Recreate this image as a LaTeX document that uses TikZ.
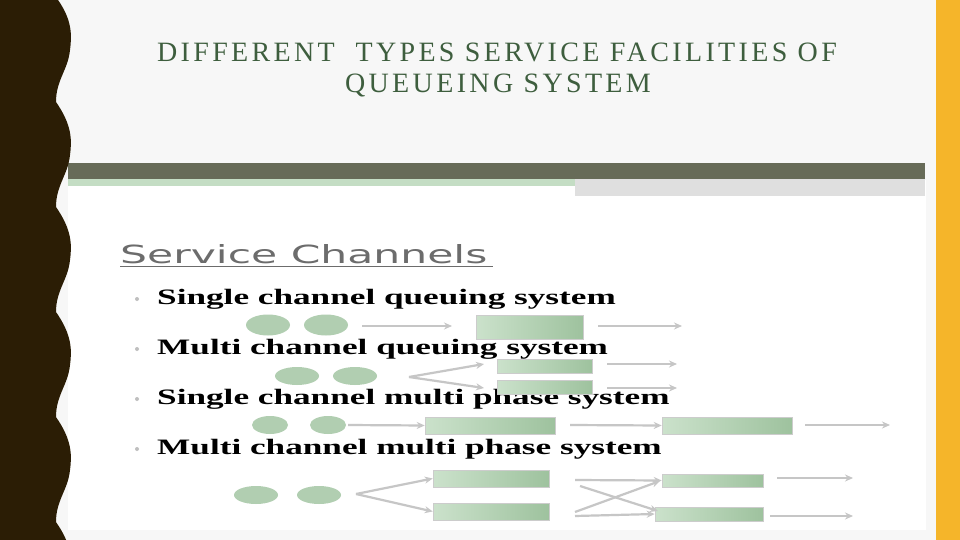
\documentclass[tikz,border=0pt]{standalone}
\usepackage{fontspec}
\setmainfont{Liberation Serif}
\newfontfamily\titlefont[LetterSpace=12]{Liberation Serif}
\newfontfamily\headfont{DejaVu Sans}
\usetikzlibrary{arrows.meta,shadings,shapes.geometric}
\definecolor{darkbrown}{HTML}{2B1D05}
\definecolor{orangebar}{HTML}{F5B52A}
\definecolor{titlegreen}{HTML}{3E5E3E}
\definecolor{boxgreen}{HTML}{B5D5B5}
\definecolor{boxgreenD}{HTML}{9EC29E}
\definecolor{headbar}{HTML}{676B58}
\tikzset{
  bx/.style={left color=boxgreen!70!white,right color=boxgreenD,draw=gray!40,line width=0.6pt},
  el/.style={ellipse,fill=boxgreenD!80!white,inner sep=0pt},
  ar/.style={draw=gray!45,line width=2.2pt,-{Stealth[length=8pt,width=7pt]}},
  btxt/.style={anchor=west,inner sep=0pt,font=\fontsize{22}{22}\selectfont\bfseries},
  bul/.style={circle,fill=gray!50,inner sep=0pt,minimum size=4pt}
}
\begin{document}
\begin{tikzpicture}[x=1pt,y=-1pt]
\useasboundingbox (0,0) rectangle (960,540);
\fill[white!94!gray] (0,0) rectangle (960,540);
\fill[orangebar] (936,0) rectangle (960,540);
\fill[white] (68,180) rectangle (926,530);
\fill[headbar] (68,163) rectangle (925,179);
\fill[boxgreen!80] (68,179) rectangle (575,186);
\fill[gray!25] (575,179) rectangle (925,196);
% wavy border
\fill[darkbrown] (0,0) -- (58,0)
  \foreach \k in {0,...,5} { .. controls (72,{\k*105+20}) and (72,{\k*105+35}) .. (70,{\k*105+50})
    .. controls (68,{\k*105+70}) and (56,{\k*105+80}) .. (56,{\k*105+102}) }
  -- (56,540) -- (0,540) -- cycle;
% title
\node[font=\titlefont\fontsize{28}{28}\selectfont,text=titlegreen] (t1) at (497,52) {DIFFERENT\ \ TYPES SERVICE FACILITIES OF};
\node[font=\titlefont\fontsize{28}{28}\selectfont,text=titlegreen] (t2) at (498,86) {QUEUEING SYSTEM};
% heading
\node[anchor=west,inner sep=0pt,text=gray!85!black] (h) at (120,254) {\headfont\fontsize{25}{25}\selectfont\scalebox{1.7}[1]{Service Channels}\,};
\draw[gray!85!black,line width=1pt] (h.south west)++(0,3) -- ++(373,0);
% bullets
\node[bul] (b1) at (137,299) {};
\node[bul] (b2) at (137,349) {};
\node[bul] (b3) at (137,399) {};
\node[bul] (b4) at (137,449) {};
\node[btxt] (l1) at (157,299) {\scalebox{1.6}[1]{Single channel queuing system}};
\node[btxt] (l2) at (157,349) {\scalebox{1.6}[1]{Multi channel queuing system}};
\node[btxt] (l3) at (157,399) {\scalebox{1.6}[1]{Single channel multi phase system}};
\node[btxt] (l4) at (157,449) {\scalebox{1.6}[1]{Multi channel multi phase system}};
% row 1
\node[el,minimum width=44pt,minimum height=21pt] (e11) at (268,325) {};
\node[el,minimum width=44pt,minimum height=21pt] (e12) at (326,325) {};
\node[bx,minimum width=107pt,minimum height=24pt] (r1) at (529.5,327) {};
\coordinate (a1s) at (362,326); \coordinate (o1) at (682,326); \coordinate (o1s) at (598,326);
\draw[ar] (a1s) -- (452,326);
\draw[ar] (o1s) -- (o1);
% row 2
\node[el,minimum width=44pt,minimum height=18pt] (e21) at (297,376) {};
\node[el,minimum width=44pt,minimum height=18pt] (e22) at (355,376) {};
\node[bx,minimum width=95pt,minimum height=14pt] (r2a) at (544.5,366) {};
\node[bx,minimum width=95pt,minimum height=14pt] (r2b) at (544.5,387) {};
\coordinate (v2) at (409,377);
\coordinate (v2a) at (484,364); \coordinate (v2b) at (484,388);
\draw[ar] (v2) -- (v2a); \draw[ar] (v2) -- (v2b);
\coordinate (o2a) at (677,364); \coordinate (o2b) at (677,388);
\draw[ar] (607,364) -- (o2a); \draw[ar] (607,388) -- (o2b);
% row 3
\node[el,minimum width=36pt,minimum height=18pt] (e31) at (270,425) {};
\node[el,minimum width=36pt,minimum height=18pt] (e32) at (328,425) {};
\node[bx,minimum width=130pt,minimum height=17pt] (r3a) at (490,425.5) {};
\node[bx,minimum width=130pt,minimum height=17pt] (r3b) at (727,425.5) {};
\coordinate (o3) at (890,425);
\draw[ar] (348,425) -- (r3a.west);
\draw[ar] (570,425) -- (r3b.west);
\draw[ar] (805,425) -- (o3);
% row 4
\node[el,minimum width=44pt,minimum height=18pt] (e41) at (256,495) {};
\node[el,minimum width=44pt,minimum height=18pt] (e42) at (319,495) {};
\node[bx,minimum width=116pt,minimum height=17pt] (r4a) at (491,478.5) {};
\node[bx,minimum width=116pt,minimum height=17pt] (r4b) at (491,511.5) {};
\node[bx,minimum width=101pt,minimum height=13pt] (r4c) at (712.5,480.5) {};
\node[bx,minimum width=108pt,minimum height=14pt] (r4d) at (709,514) {};
\coordinate (v4) at (356,494);
\draw[ar] (v4) -- (r4a.west); \draw[ar] (v4) -- (r4b.west);
\draw[ar] (575,480) -- (r4c.west);
\draw[ar] (575,516) -- (r4d.west);
\draw[ar] (580,486) -- (658,511);
\draw[ar] (575,512) -- (660,481);
\coordinate (o4a) at (853,478); \coordinate (o4b) at (853,516);
\draw[ar] (777,478) -- (o4a);
\draw[ar] (770,516) -- (o4b);
\end{tikzpicture}
\end{document}
